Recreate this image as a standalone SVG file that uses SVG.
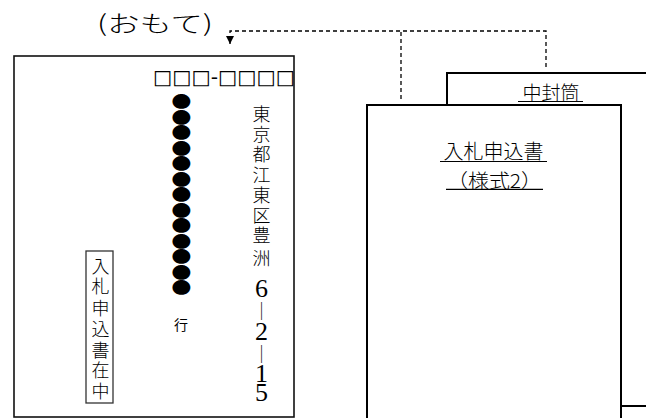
<svg xmlns="http://www.w3.org/2000/svg" width="646" height="418" viewBox="0 0 646 418">
<style>
.jp{font-family:"Noto Sans CJK JP","Noto Sans",sans-serif;fill:#000}
.num{font-family:"Liberation Serif","Noto Sans CJK JP",serif;fill:#000}
.box{fill:#fff;stroke:#000;stroke-width:2}
.env{fill:#fff;stroke:#111;stroke-width:1.6}
.dash{fill:none;stroke:#000;stroke-width:1.3;stroke-dasharray:4 3}
.ul{stroke:#000;stroke-width:1.2}
.c{text-anchor:middle;dominant-baseline:central}
</style>
<defs>
<marker id="arr" viewBox="0 0 10 10" refX="10" refY="5" markerWidth="8" markerHeight="8" markerUnits="userSpaceOnUse" orient="auto">
<path d="M0,0 L10,5 L0,10 Z" fill="#000"/>
</marker>
</defs>
<rect width="646" height="418" fill="#fff"/>

<g id="omote-label">
<text class="jp" x="97" y="32" font-size="23" font-weight="300" textLength="116" lengthAdjust="spacingAndGlyphs">(おもて)</text>
</g>

<g id="front-envelope">
<rect class="env" x="14" y="56" width="280" height="361"/>
<text x="153" y="84" font-size="20" font-family="DejaVu Sans, sans-serif" fill="#000" textLength="142" lengthAdjust="spacingAndGlyphs">□□□-□□□□</text>
<g class="jp c" font-size="16.5" transform="translate(181.5 0) scale(1.2 1) translate(-181.5 0)">
<text x="181.5" y="101">●</text><text x="181.5" y="116.5">●</text><text x="181.5" y="132">●</text>
<text x="181.5" y="147.5">●</text><text x="181.5" y="163">●</text><text x="181.5" y="178.5">●</text>
<text x="181.5" y="194">●</text><text x="181.5" y="209.5">●</text><text x="181.5" y="225">●</text>
<text x="181.5" y="240.5">●</text><text x="181.5" y="256">●</text><text x="181.5" y="271.5">●</text>
<text x="181.5" y="287">●</text>
</g>
<text class="jp c" x="181" y="324" font-size="14">行</text>
<g class="jp c" font-size="18" font-weight="300">
<text x="261.5" y="113">東</text><text x="261.5" y="133">京</text><text x="261.5" y="153">都</text>
<text x="261.5" y="174">江</text><text x="261.5" y="194">東</text><text x="261.5" y="214">区</text>
<text x="261.5" y="234">豊</text><text x="261.5" y="257">洲</text>
<text x="261.5" y="310">｜</text><text x="261.5" y="353">｜</text>
</g>
<g class="num c" font-size="26">
<text x="261.5" y="288">6</text><text x="261.5" y="331">2</text>
<text x="261.5" y="373">1</text><text x="261.5" y="392">5</text>
</g>
<rect x="86" y="251" width="27" height="152" fill="none" stroke="#333" stroke-width="1.3"/>
<g class="jp c" font-size="18" font-weight="300">
<text x="100.5" y="264.5">入</text><text x="100.5" y="285">札</text><text x="100.5" y="306.5">申</text>
<text x="100.5" y="328">込</text><text x="100.5" y="348.5">書</text><text x="100.5" y="368.5">在</text>
<text x="100.5" y="390">中</text>
</g>
</g>

<g id="inner-envelope">
<rect class="box" x="447" y="73" width="210" height="333"/>
<text class="jp c" x="551" y="91" font-size="19" font-weight="300">中封筒</text>
<line class="ul" x1="518" y1="101.5" x2="583" y2="101.5"/>
</g>

<g id="application-form">
<rect class="box" x="367" y="105" width="254" height="330"/>
<text class="jp c" x="493.5" y="150" font-size="20" font-weight="300">入札申込書</text>
<line class="ul" x1="440" y1="161.5" x2="547" y2="161.5"/>
<text class="jp c" x="494.5" y="179" font-size="19" font-weight="300" textLength="95" lengthAdjust="spacingAndGlyphs">（様式2）</text>
<line class="ul" x1="446" y1="189.3" x2="543" y2="189.3"/>
</g>

<g id="connectors">
<path class="dash" d="M401,99 V31 M546,67 V31 H230 V36"/>
<line x1="230" y1="36" x2="230" y2="44" stroke="#000" stroke-width="1.3" marker-end="url(#arr)"/>
</g>
</svg>
